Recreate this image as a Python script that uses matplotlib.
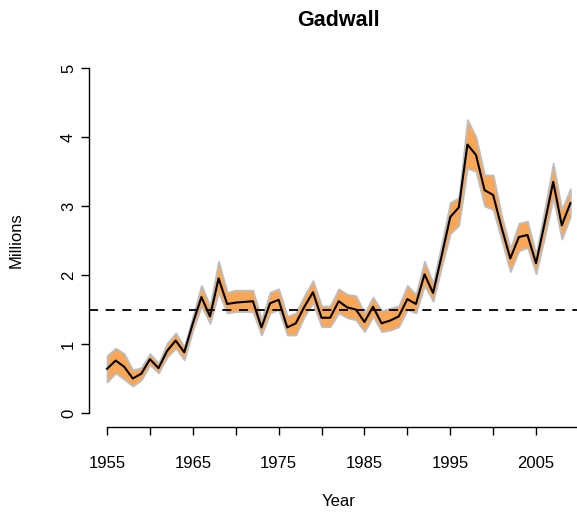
import matplotlib
matplotlib.use("Agg")
import matplotlib.pyplot as plt
import numpy as np

plt.rcParams['font.family'] = ['Liberation Sans', 'DejaVu Sans']
plt.rcParams['lines.scale_dashes'] = False

years = list(range(1955, 2010))
estimate = [0.64, 0.76, 0.67, 0.50, 0.57, 0.78, 0.65, 0.90, 1.05, 0.88,
            1.30, 1.68, 1.40, 1.95, 1.58, 1.60, 1.61, 1.62, 1.24, 1.59,
            1.64, 1.24, 1.30, 1.54, 1.75, 1.38, 1.38, 1.62, 1.53, 1.50,
            1.32, 1.54, 1.30, 1.34, 1.40, 1.65, 1.58, 2.01, 1.74, 2.28,
            2.84, 2.98, 3.89, 3.74, 3.23, 3.16, 2.68, 2.24, 2.55, 2.58,
            2.17, 2.75, 3.35, 2.72, 3.04]
upper = [0.83, 0.94, 0.86, 0.62, 0.66, 0.86, 0.72, 1.01, 1.16, 0.96,
         1.40, 1.85, 1.55, 2.20, 1.75, 1.78, 1.78, 1.78, 1.35, 1.75,
         1.80, 1.40, 1.45, 1.70, 1.92, 1.55, 1.55, 1.80, 1.72, 1.70,
         1.45, 1.68, 1.48, 1.52, 1.55, 1.85, 1.72, 2.20, 1.88, 2.45,
         3.05, 3.12, 4.25, 4.00, 3.45, 3.45, 2.85, 2.38, 2.75, 2.78,
         2.30, 2.95, 3.62, 2.95, 3.25]
lower = [0.45, 0.58, 0.49, 0.39, 0.48, 0.70, 0.58, 0.81, 0.94, 0.77,
         1.20, 1.55, 1.30, 1.75, 1.45, 1.47, 1.47, 1.47, 1.13, 1.45,
         1.50, 1.13, 1.13, 1.40, 1.60, 1.25, 1.25, 1.45, 1.38, 1.35,
         1.18, 1.40, 1.18, 1.20, 1.25, 1.50, 1.45, 1.85, 1.62, 2.12,
         2.60, 2.72, 3.55, 3.50, 3.00, 2.95, 2.50, 2.05, 2.35, 2.40,
         2.02, 2.55, 3.12, 2.52, 2.85]
goal = 1.5
x_ticks = list(range(1955, 2011, 5))
x_labels = ['1955', '', '1965', '', '1975', '', '1985', '', '1995', '', '2005', '']
y_ticks = [0, 1, 2, 3, 4, 5]

W, H = 577, 512
fig = plt.figure(figsize=(W / 100, H / 100), dpi=100)
left_px, right_px, top_px, bot_px = 88.5, 588.9, 54.2, 426.8
ax = fig.add_axes([left_px / W, 1 - bot_px / H, (right_px - left_px) / W, (bot_px - top_px) / H])

xr = years[-1] - years[0]
ax.set_xlim(years[0] - 0.04 * xr, years[-1] + 0.04 * xr)
ax.set_ylim(0 - 0.04 * 5, 5 + 0.04 * 5)

ax.fill_between(years, lower, upper, facecolor='#F8A658', edgecolor='#BEBEBE', linewidth=1.3, zorder=2)
ax.plot(years, estimate, color='black', linewidth=1.5, zorder=3)
ax.axhline(goal, color='black', linewidth=1.3, linestyle=(0, (6.5, 5.5)), zorder=4)

for s in ['top', 'right']:
    ax.spines[s].set_visible(False)
ax.spines['left'].set_bounds(0, 5)
ax.spines['bottom'].set_bounds(1955, 2010)
ax.spines['left'].set_linewidth(1.0)
ax.spines['bottom'].set_linewidth(1.0)

ax.set_xticks(x_ticks)
ax.set_xticklabels(x_labels)
ax.set_yticks(y_ticks)
ax.set_yticklabels([str(v) for v in y_ticks], rotation=90, va='center')
ax.tick_params(axis='both', length=6, width=1.0, labelsize=12, direction='out')
ax.tick_params(axis='x', pad=15)
ax.tick_params(axis='y', pad=3)

fig.text(338.7 / W, 1 - 20 / H, 'Gadwall', ha='center', va='center', fontsize=15.5, fontweight='bold')
fig.text(338.7 / W, 1 - 501 / H, 'Year', ha='center', va='center', fontsize=12)
fig.text(16 / W, 1 - 240.5 / H, 'Millions', ha='center', va='center', fontsize=12, rotation=90)

fig.savefig('out.png', dpi=100)
